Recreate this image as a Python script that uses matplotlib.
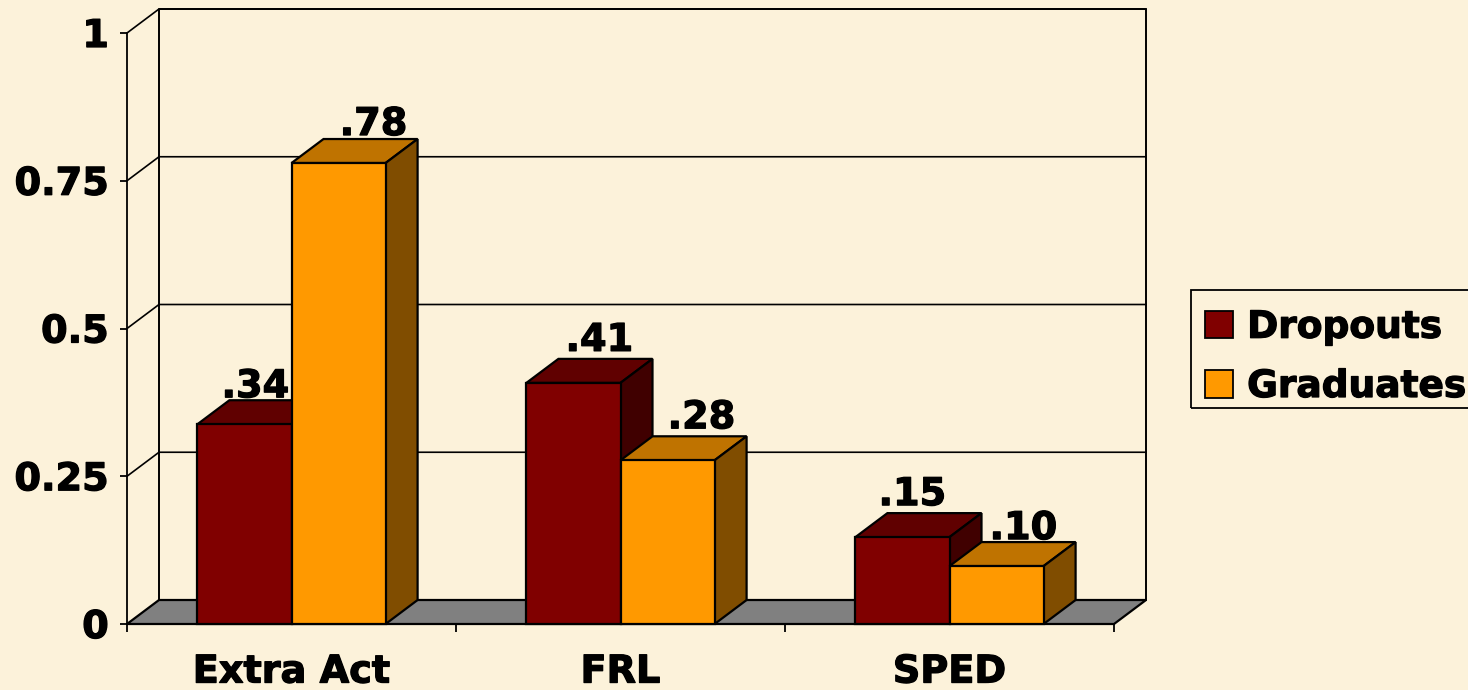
import matplotlib
matplotlib.use('Agg')
import matplotlib.pyplot as plt
import matplotlib.patheffects as pe
from matplotlib.patches import Polygon, Patch, Rectangle

# Values
categories = ['Extra Act', 'FRL', 'SPED']
dropouts = [0.338, 0.408, 0.147]
graduates = [0.78, 0.277, 0.098]
dropout_labels = ['.34', '.41', '.15']
graduate_labels = ['.78', '.28', '.10']
y_ticks = [0, 0.25, 0.5, 0.75, 1]
y_tick_labels = ['0', '0.25', '0.5', '0.75', '1']

# Label nudges in pixels, from the front top left of each bar
dropout_nudge = [(58, 27), (73, 32), (57, 32)]
graduate_nudge = [(82, 28), (81, 32), (74, 27)]

W, H = 1468, 690
BG = '#FCF2DA'
FONT = 'DejaVu Sans'
FS = 27.5
HEAVY = [pe.withStroke(linewidth=0.9, foreground='black')]

plt.rcParams['font.family'] = FONT
plt.rcParams['font.weight'] = 'bold'

fig = plt.figure(figsize=(W / 100, H / 100), dpi=100, facecolor=BG)
ax = fig.add_axes([127 / W, (H - 624) / H, 987 / W, 591 / H])
ax.set_xlim(0, 3)
ax.set_ylim(0, 1)
ax.patch.set_visible(False)

# 3D depth of the chart, in data units
dx = 32 / 329
dy = 24 / 591
bar_w = 0.286


def poly(points, color, z):
    ax.add_patch(Polygon(points, closed=True, facecolor=color, edgecolor='black',
                         linewidth=1.6, joinstyle='miter', clip_on=False, zorder=z))


def bar3d(x, value, front, top, side, z):
    poly([(x, value), (x + dx, value + dy), (x + bar_w + dx, value + dy), (x + bar_w, value)], top, z)
    poly([(x + bar_w, 0), (x + bar_w + dx, dy), (x + bar_w + dx, value + dy), (x + bar_w, value)], side, z)
    poly([(x, 0), (x + bar_w, 0), (x + bar_w, value), (x, value)], front, z)


# Floor and walls
poly([(0, 0), (3, 0), (3 + dx, dy), (dx, dy)], '#808080', 1)
ax.plot([dx, dx, 3 + dx, 3 + dx], [dy, 1 + dy, 1 + dy, dy], color='black', lw=1.4, clip_on=False, zorder=1)
for t in y_ticks[1:]:
    ax.plot([0, dx, 3 + dx], [t, t + dy, t + dy], color='black', lw=1.2, clip_on=False, zorder=1)

# Bars
for i in range(len(categories)):
    x1 = i + 0.5 - bar_w
    x2 = i + 0.5
    bar3d(x1, dropouts[i], '#800000', '#600000', '#400000', 2 + i)
    bar3d(x2, graduates[i], '#FF9900', '#BF7300', '#804D00', 2.5 + i)
    ax.annotate(dropout_labels[i], (x1, dropouts[i]), xytext=dropout_nudge[i], textcoords='offset pixels',
                ha='center', va='baseline', fontsize=FS, fontweight='bold', zorder=10,
                annotation_clip=False, path_effects=HEAVY)
    ax.annotate(graduate_labels[i], (x2, graduates[i]), xytext=graduate_nudge[i], textcoords='offset pixels',
                ha='center', va='baseline', fontsize=FS, fontweight='bold', zorder=10,
                annotation_clip=False, path_effects=HEAVY)

# Axes
for s in ['top', 'right']:
    ax.spines[s].set_visible(False)
for s in ['left', 'bottom']:
    ax.spines[s].set_linewidth(1.3)
    ax.spines[s].set_zorder(12)
ax.set_yticks(y_ticks)
ax.set_yticklabels(y_tick_labels, fontsize=FS, fontweight='bold', path_effects=HEAVY)
ax.set_xticks(range(len(categories) + 1))
ax.set_xticklabels([])
ax.set_xticks([i + 0.5 for i in range(len(categories))], minor=True)
ax.set_xticklabels(categories, minor=True, fontsize=FS, fontweight='bold', path_effects=HEAVY)
ax.tick_params(axis='y', direction='out', length=5, width=1.3, pad=8)
ax.tick_params(axis='x', which='major', direction='out', length=6, width=1.3)
ax.tick_params(axis='x', which='minor', length=0, pad=22)

# Legend: the frame sits higher than the rows, so it is drawn on its own
fig.add_artist(Rectangle((1191 / W, 1 - 408 / H), 290 / W, 118 / H, transform=fig.transFigure,
                         facecolor='none', edgecolor='black', linewidth=1.3))
handles = [Patch(facecolor='#800000', edgecolor='black', lw=1.3, label='Dropouts'),
           Patch(facecolor='#FF9900', edgecolor='black', lw=1.3, label='Graduates')]
leg = fig.legend(handles=handles, loc='upper left', bbox_to_anchor=(1192 / W, 1 - 297 / H),
                 fontsize=27, frameon=False, borderaxespad=0, handlelength=0.75, handleheight=0.75,
                 handletextpad=0.38, labelspacing=0.62, borderpad=0.34)
for t in leg.get_texts():
    t.set_path_effects(HEAVY)

fig.savefig('out.png', dpi=100, facecolor=BG)
